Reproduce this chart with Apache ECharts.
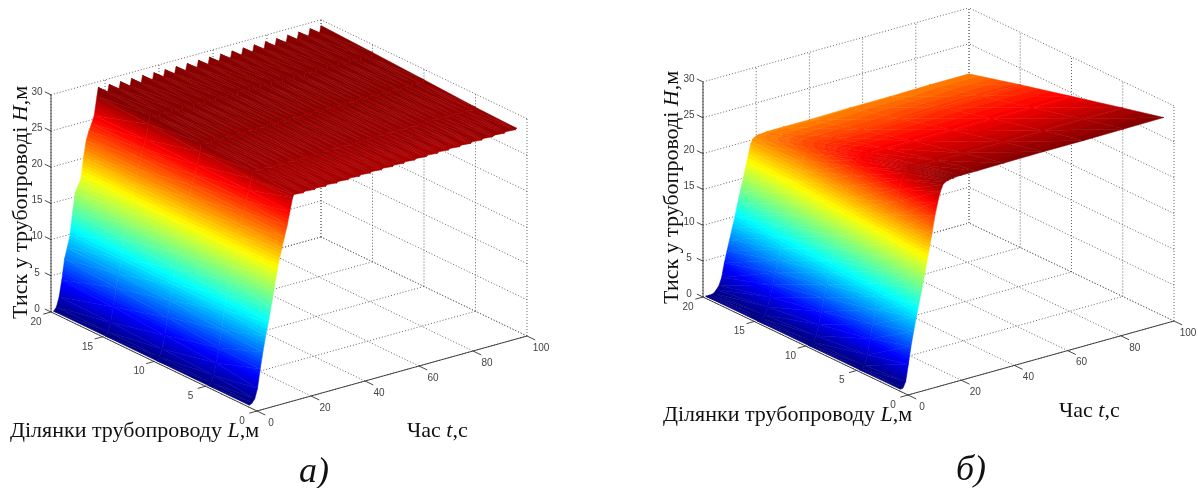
<!DOCTYPE html>
<html>
<head>
<meta charset="utf-8">
<title>Тиск у трубопроводі</title>
<style>
  html, body { margin: 0; padding: 0; background: #fff; }
  #main { width: 1198px; height: 488px; }
</style>
<script src="https://cdn.jsdelivr.net/npm/echarts@6/dist/echarts.min.js"></script>
</head>
<body>
<div id="main"></div>
<script>
// axis ticks, the same on both plots
const timeTicks = [0, 20, 40, 60, 80, 100];
const lengthTicks = [0, 5, 10, 15, 20];
const pressureTicks = [0, 5, 10, 15, 20, 25, 30];

const sections = [20, 15, 10, 5, 1];

// plot a): time nodes, first the rise and then tooth top / tooth bottom pairs
const timesA = [1, 2, 3, 4, 5, 6, 7, 8, 9, 10, 11, 12, 13, 14, 15, 16, 17,
  17.5, 21, 21.5, 25.2, 25.7, 29.3, 29.8, 33.4, 33.9, 37.6, 38.1, 41.7, 42.2, 45.8, 46.3, 49.9, 50.4, 54.1,
  54.6, 58.2, 58.7, 62.3, 62.8, 66.5, 67, 70.6, 71.1, 74.7, 75.2, 78.9, 79.4, 83, 83.5, 87.1, 87.6, 91.2, 91.7, 95.4, 95.9, 99.5, 100];
const pressureA20 = [0, 0.5, 1.8, 4, 6.8, 8.3, 9.8, 13, 15.6, 16.4, 17.1, 20, 22.3, 23.5, 24.4, 25.5, 28,
  29.2, 28.25, 29.2, 28.25, 29.15, 28.2, 29.15, 28.2, 29.15, 28.2, 29.1, 28.2, 29.1, 28.2, 29.1, 28.2, 29.1, 28.2,
  29.1, 28.2, 29.1, 28.2, 29.1, 28.2, 29.1, 28.2, 29.1, 28.2, 29.1, 28.2, 29.1, 28.2, 29.1, 28.25, 29.15, 28.25, 29.15, 28.25, 29.2, 28.3, 29.2];
const pressureA15 = [0, 0.5, 1.7, 3.7, 6.3, 8, 10, 12.6, 14.8, 16.2, 17.5, 19.8, 21.8, 23.2, 24.4, 25.6, 27.6,
  28.85, 28.15, 28.85, 28.15, 28.85, 28.15, 28.85, 28.15, 28.85, 28.15, 28.85, 28.15, 28.85, 28.15, 28.85, 28.15, 28.85, 28.15,
  28.85, 28.15, 28.85, 28.15, 28.85, 28.15, 28.85, 28.15, 28.85, 28.15, 28.85, 28.2, 28.9, 28.2, 28.9, 28.2, 28.9, 28.2, 28.9, 28.2, 28.9, 28.2, 28.9];
const pressureA10 = [0, 0.4, 1.4, 3.2, 5.6, 7.8, 9.9, 12, 14, 16, 17.9, 19.6, 21.3, 22.9, 24.2, 25.5, 27.2,
  28.45, 27.9, 28.45, 27.9, 28.45, 27.9, 28.45, 27.9, 28.45, 27.9, 28.45, 27.95, 28.5, 27.95, 28.5, 27.95, 28.5, 27.95,
  28.5, 27.95, 28.5, 27.95, 28.5, 27.95, 28.5, 27.95, 28.5, 28, 28.55, 28, 28.55, 28, 28.55, 28, 28.55, 28, 28.55, 28, 28.55, 28, 28.55];
const pressureA5 = [0, 0.3, 1.2, 2.8, 4.8, 7.2, 9.8, 11.8, 13.6, 15.5, 17.5, 19.4, 21, 22.7, 24, 25.4, 26.9,
  27.95, 27.6, 27.95, 27.6, 27.95, 27.6, 27.95, 27.62, 27.97, 27.62, 27.97, 27.65, 28, 27.65, 28, 27.68, 28.03, 27.68,
  28.03, 27.7, 28.05, 27.7, 28.05, 27.72, 28.07, 27.72, 28.07, 27.75, 28.1, 27.75, 28.1, 27.78, 28.12, 27.78, 28.12, 27.8, 28.15, 27.8, 28.15, 27.82, 28.17];
const pressureA1 = [0, 0.2, 0.7, 2, 4.6, 6.8, 8.9, 10.7, 12.7, 14.8, 16.9, 18.9, 20.4, 21.9, 23.4, 25.2, 27,
  27.4, 27.28, 27.44, 27.31, 27.47, 27.34, 27.5, 27.36, 27.52, 27.38, 27.55, 27.41, 27.57, 27.44, 27.6, 27.46, 27.62, 27.49,
  27.65, 27.51, 27.67, 27.54, 27.7, 27.56, 27.72, 27.59, 27.75, 27.62, 27.78, 27.65, 27.81, 27.68, 27.84, 27.72, 27.88, 27.76, 27.92, 27.81, 27.96, 27.86, 28];

// plot б)
const timesB = [1, 2, 3, 4, 5, 6, 7, 8, 9, 10, 11, 12, 13, 14, 15, 16, 17, 18, 19, 20, 21, 22, 24, 30, 40, 55, 70, 85, 100];
const pressureB20 = [0, 0, 0, 0.1, 0.5, 1, 2, 3.9, 5.5, 7, 8.5, 10, 11.7, 13.3, 14.8, 16.4, 18, 19.6, 20.2, 20.4, 20.5, 20.5, 20.6, 20.6, 20.6, 20.7, 20.7, 20.8, 20.8];
const pressureB15 = [0, 0, 0.1, 0.5, 1.5, 2.8, 4.4, 6, 7.6, 9.1, 10.6, 12, 13.5, 15, 16.4, 17.8, 19.2, 20.5, 21.5, 22.1, 22.4, 22.5, 22.6, 22.6, 22.6, 22.6, 22.7, 22.7, 22.7];
const pressureB10 = [0, 0, 0.2, 1, 2.5, 4.2, 6, 7.7, 9.3, 10.9, 12.5, 14.1, 15.7, 17.4, 19, 20.6, 22, 23.2, 23.9, 24.2, 24.4, 24.4, 24.5, 24.5, 24.5, 24.5, 24.5, 24.5, 24.5];
const pressureB5 = [0, 0.05, 0.4, 1.8, 3.9, 5.9, 7.8, 9.5, 11.2, 12.9, 14.7, 16.5, 18.3, 20.2, 22, 23.6, 24.9, 25.7, 26, 26.1, 26.2, 26.2, 26.2, 26.2, 26.2, 26.2, 26.25, 26.3, 26.3];
const pressureB1 = [0, 0.1, 0.9, 3.2, 5.6, 7.6, 9.5, 11.3, 13, 14.9, 16.8, 18.8, 20.8, 22.9, 24.6, 26, 26.9, 27.2, 27.3, 27.4, 27.4, 27.5, 27.5, 27.5, 27.55, 27.6, 27.6, 27.65, 27.7];

const serif = '"Liberation Serif", "Times New Roman", serif';

const plotA = {
  origin: [257, 411], timeVec: [270, -75], lengthVec: [-206, -99], pressureUnit: 7.24, colorMax: 28.7,
  times: timesA, rows: [pressureA20, pressureA15, pressureA10, pressureA5, pressureA1]
};
const plotB = {
  origin: [908, 395], timeVec: [266, -74], lengthVec: [-205, -98], pressureUnit: 7.17, colorMax: 27.7,
  times: timesB, rows: [pressureB20, pressureB15, pressureB10, pressureB5, pressureB1]
};

// the chart is a fixed oblique view (matlab style), so every 3d point goes to the flat hidden axes
function project(plot, t, l, h) {
  const x = plot.origin[0] + t / 100 * plot.timeVec[0] + l / 20 * plot.lengthVec[0];
  const y = plot.origin[1] + t / 100 * plot.timeVec[1] + l / 20 * plot.lengthVec[1] - h * plot.pressureUnit;
  return [x, y];
}

// matlab jet with 64 steps
function jet(i) {
  const v = (i + 0.5) / 64;
  const c = (a) => Math.round(255 * Math.max(0, Math.min(1, a)));
  return 'rgb(' + c(Math.min(4 * v - 1.5, -4 * v + 4.5)) + ',' + c(Math.min(4 * v - 0.5, -4 * v + 3.5)) + ',' + c(Math.min(4 * v + 0.5, -4 * v + 2.5)) + ')';
}
function level(plot, h) {
  return Math.max(0, Math.min(63, Math.floor(h / plot.colorMax * 64)));
}

// colour of one triangle: hard colour steps along the direction where the pressure grows
function triangleFill(plot, pts, hs) {
  const d = (pts[1][0] - pts[0][0]) * (pts[2][1] - pts[0][1]) - (pts[2][0] - pts[0][0]) * (pts[1][1] - pts[0][1]);
  const hMin = Math.min(hs[0], hs[1], hs[2]);
  const hMax = Math.max(hs[0], hs[1], hs[2]);
  if (Math.abs(d) < 0.01 || level(plot, hMin) === level(plot, hMax)) {
    return jet(level(plot, (hMin + hMax) / 2));
  }
  const a = ((hs[1] - hs[0]) * (pts[2][1] - pts[0][1]) - (hs[2] - hs[0]) * (pts[1][1] - pts[0][1])) / d;
  const b = ((hs[2] - hs[0]) * (pts[1][0] - pts[0][0]) - (hs[1] - hs[0]) * (pts[2][0] - pts[0][0])) / d;
  const n = a * a + b * b;
  const at = (h) => [pts[0][0] + (h - hs[0]) * a / n, pts[0][1] + (h - hs[0]) * b / n];
  const from = at(hMin);
  const to = at(hMax);
  const stops = [{ offset: 0, color: jet(level(plot, hMin)) }];
  for (let i = level(plot, hMin) + 1; i <= level(plot, hMax); i++) {
    const off = ((i / 64 * plot.colorMax) - hMin) / (hMax - hMin);
    stops.push({ offset: off, color: jet(i - 1) });
    stops.push({ offset: off, color: jet(i) });
  }
  stops.push({ offset: 1, color: jet(level(plot, hMax)) });
  return new echarts.graphic.LinearGradient(from[0], from[1], to[0], to[1], stops, true);
}

// surface as triangles, far ones first so the near ones paint over them
function surfaceData(plot) {
  const out = [];
  for (let r = 0; r < sections.length - 1; r++) {
    for (let c = plot.times.length - 2; c >= 0; c--) {
      const t0 = plot.times[c], t1 = plot.times[c + 1];
      const l0 = sections[r], l1 = sections[r + 1];
      const a = plot.rows[r], b = plot.rows[r + 1];
      out.push([t1, l0, a[c + 1], t0, l0, a[c], t1, l1, b[c + 1]]);
      out.push([t0, l0, a[c], t0, l1, b[c], t1, l1, b[c + 1]]);
    }
  }
  return out;
}

// dotted box grid: floor and the two far walls
function gridData() {
  const out = [];
  const hTop = pressureTicks[pressureTicks.length - 1];
  timeTicks.forEach((t) => {
    out.push([t, 0, 0, t, 20, 0]);
    out.push([t, 20, 0, t, 20, hTop]);
  });
  lengthTicks.forEach((l) => {
    out.push([0, l, 0, 100, l, 0]);
    out.push([100, l, 0, 100, l, hTop]);
  });
  pressureTicks.forEach((h) => {
    out.push([0, 20, h, 100, 20, h]);
    out.push([100, 0, h, 100, 20, h]);
  });
  return out;
}

// solid axis lines with their tick marks
function axisData() {
  const out = [[0, 0, 0, 100, 0, 0], [0, 0, 0, 0, 20, 0], [0, 20, 0, 0, 20, 30]];
  timeTicks.forEach((t) => out.push([t, 0, 0, t, -0.8, 0]));
  lengthTicks.forEach((l) => out.push([0, l, 0, -2.9, l, 0]));
  pressureTicks.forEach((h) => out.push([0, 20, h, 0, 20.6, h]));
  return out;
}

function tickLabelData() {
  const out = [];
  timeTicks.forEach((t) => out.push([t, 0, 0, 14, 12, t]));
  lengthTicks.forEach((l) => out.push([0, l, 0, -15, 10, l]));
  pressureTicks.forEach((h) => out.push([0, 20, h, -14, -3, h]));
  return out;
}

function surfaceSeries(plot) {
  return {
    type: 'custom', silent: true, clip: false, progressive: 0, animation: false, z: 3,
    data: surfaceData(plot),
    renderItem: function (params, api) {
      const pts = [0, 3, 6].map((i) => api.coord(project(plot, api.value(i), api.value(i + 1), api.value(i + 2))));
      const fill = triangleFill(plot, pts, [api.value(2), api.value(5), api.value(8)]);
      // round joins, a miter on the thin triangles sticks out as a dark spike
      return { type: 'polygon', shape: { points: pts }, style: { fill: fill, stroke: fill, lineWidth: 0.5, lineJoin: 'round' } };
    }
  };
}

function lineSeries(plot, rows, style, z) {
  return {
    type: 'custom', silent: true, clip: false, progressive: 0, animation: false, z: z,
    data: rows,
    renderItem: function (params, api) {
      const a = api.coord(project(plot, api.value(0), api.value(1), api.value(2)));
      const b = api.coord(project(plot, api.value(3), api.value(4), api.value(5)));
      return { type: 'line', shape: { x1: a[0], y1: a[1], x2: b[0], y2: b[1] }, style: style };
    }
  };
}

function labelSeries(plot) {
  return {
    type: 'custom', silent: true, clip: false, progressive: 0, animation: false, z: 4,
    data: tickLabelData(),
    renderItem: function (params, api) {
      const p = api.coord(project(plot, api.value(0), api.value(1), api.value(2)));
      return {
        type: 'text', x: p[0] + api.value(3), y: p[1] + api.value(4),
        style: {
          text: String(api.value(5)), fill: '#444', align: 'center', verticalAlign: 'middle',
          fontSize: 10, fontFamily: '"Liberation Sans", Arial, sans-serif'
        }
      };
    }
  };
}

function plotSeries(plot) {
  return [
    lineSeries(plot, gridData(), { stroke: '#666', lineWidth: 1, lineDash: [1, 2] }, 1),
    lineSeries(plot, axisData(), { stroke: '#333', lineWidth: 0.9 }, 2),
    surfaceSeries(plot),
    labelSeries(plot)
  ];
}

function caption(text, x, y, fontSize, extra) {
  return Object.assign({
    type: 'text', x: x, y: y, silent: true,
    style: {
      text: text, fill: '#111', fontFamily: serif, fontSize: fontSize, verticalAlign: 'middle',
      rich: { i: { fontStyle: 'italic', fontFamily: serif, fontSize: fontSize, fill: '#111' } }
    }
  }, extra || {});
}

const chart = echarts.init(document.getElementById('main'), null, { renderer: 'canvas' });
chart.setOption({
  animation: false,
  backgroundColor: '#fff',
  grid: { left: 0, right: 0, top: 0, bottom: 0 },
  xAxis: { type: 'value', min: 0, max: 1198, show: false },
  yAxis: { type: 'value', min: 0, max: 488, inverse: true, show: false },
  series: plotSeries(plotA).concat(plotSeries(plotB)),
  graphic: [
    caption('Тиск у трубопроводі {i|H},м', 21, 319, 22, { rotation: Math.PI / 2 }),
    caption('Ділянки трубопроводу {i|L},м', 10, 431, 22),
    caption('Час {i|t},с', 407, 431, 22),
    caption('Тиск у трубопроводі {i|H},м', 672, 304, 22, { rotation: Math.PI / 2 }),
    caption('Ділянки трубопроводу {i|L},м', 663, 415, 22),
    caption('Час {i|t},с', 1059, 411, 22),
    caption('{i|а)}', 299, 473, 36),
    caption('{i|б)}', 956, 471, 36)
  ]
});
</script>
</body>
</html>
